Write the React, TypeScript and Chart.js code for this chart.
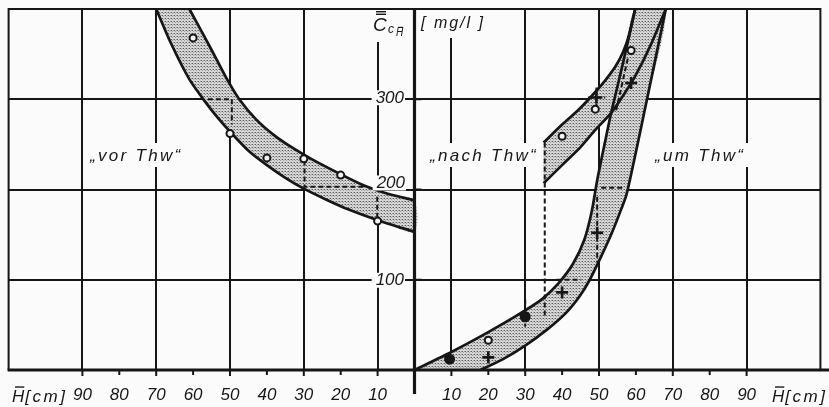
import React, { useEffect, useRef } from 'react';
import { Chart, registerables } from 'chart.js';

Chart.register(...registerables);

// Depth H̄ in cm. The left panel runs leftwards, so its H̄ values are plotted as negative x.
const xTickValues = [10, 20, 30, 40, 50, 60, 70, 80, 90];
const yTickValues = [100, 200, 300];

// Band "vor Thw" (left panel): outer and inner boundary
const vorOuterH = [61, 57, 53.5, 50.5, 47.5, 43, 38, 33, 28, 21, 14, 7, 0];
const vorOuterC = [400, 370, 343, 320, 300, 278, 260, 246, 234, 219, 205, 195, 188];
const vorInnerH = [70, 66, 61, 56.5, 53, 49.5, 45, 40, 35, 30, 24, 18, 10, 0];
const vorInnerC = [400, 362, 322, 296, 278, 262, 243, 227, 213, 201, 189, 178, 166, 153];

// Band "um Thw" (right panel): upper-left and lower-right boundary
const umLeftH = [0, 10, 20, 28, 34.4, 39, 43, 46, 48, 49.5, 51.5, 53.3, 56.5, 59.8];
const umLeftC = [0, 20, 42, 61, 78, 96, 118, 144, 175, 210, 250, 285, 340, 400];
const umRightH = [17.9, 24, 30, 36, 41, 44.8, 47.5, 50.5, 53.5, 56, 57.5, 62.5, 68.1];
const umRightC = [0, 12, 27, 45, 63, 82, 100, 125, 152, 178, 195, 290, 400];

// Band "nach Thw" (right panel): upper and lower boundary
const nachUpperH = [35, 40, 44.4, 49, 51.7, 54.4, 56.5, 58.2, 59.8];
const nachUpperC = [252, 272, 288, 308, 321, 336, 352, 372, 400];
const nachLowerH = [35, 40, 45, 49, 53.3, 57, 60, 64, 68.1];
const nachLowerC = [207, 227, 247, 266, 285, 307, 327, 360, 400];

// Measured values
const vorCircleH = [60, 50, 40, 30, 20, 10];
const vorCircleC = [368, 262, 235, 234, 216, 165];
const rightCircleH = [20, 40, 49, 58.7];
const rightCircleC = [33, 259, 289, 354];
const rightPlusH = [20, 40, 49.5, 49.3, 58.7];
const rightPlusC = [14, 86, 152, 302, 318];
const rightFilledH = [9.5, 30];
const rightFilledC = [12, 59];

// Construction lines (left panel uses negative H)
const guideLines: [number[], number[]][] = [
  [[-56, -49.5, -49.5], [300, 300, 272]],
  [[-29.8, -29.8, -13.6], [232, 203, 203]],
  [[-10.1, -10.1], [192, 169]],
  [[35.3, 35.3], [252, 57]],
  [[38.5, 45.2], [100, 100]],
  [[49.5, 49.5], [192, 119]],
  [[50.6, 57.1], [202, 202]],
  [[47, 51.7], [302, 302]],
  [[49.3, 49.3], [313, 291]],
  [[30, 30], [78, 48]],
  [[57.8, 54.5], [345, 285]],
];

const INK = '#161616';
const PAPER = '#fbfbfb';
const FONT = "'Liberation Sans', 'DejaVu Sans', sans-serif";

const pts = (xs: number[], ys: number[], sign = 1) => xs.map((x, i) => ({ x: sign * x, y: ys[i] }));

// fine halftone stipple used for the bands
function makeDotPattern(): CanvasPattern | string {
  const c = document.createElement('canvas');
  c.width = 3;
  c.height = 3;
  const g = c.getContext('2d');
  if (!g) return '#c0c0c0';
  g.fillStyle = '#d6d6d6';
  g.fillRect(0, 0, 3, 3);
  g.fillStyle = '#5c5c5c';
  g.fillRect(0, 0, 1, 1);
  g.fillStyle = '#a0a0a0';
  g.fillRect(1, 1, 1, 1);
  g.fillRect(2, 0, 1, 1);
  return g.createPattern(c, 'repeat') || '#c0c0c0';
}

function drawOverlined(ctx: CanvasRenderingContext2D, ch: string, x: number, y: number, size: number) {
  ctx.font = `italic ${size}px ${FONT}`;
  ctx.fillText(ch, x, y);
  const w = ctx.measureText(ch).width;
  ctx.fillRect(x + w * 0.25, y - size * 0.92, w * 0.75, Math.max(1.2, size * 0.08));
  return w;
}

const decor = {
  id: 'decor',
  beforeDraw(chart: any) {
    const { ctx, width, height } = chart;
    ctx.save();
    ctx.fillStyle = PAPER;
    ctx.fillRect(0, 0, width, height);
    ctx.restore();
  },
  afterDatasetsDraw(chart: any) {
    const { ctx, chartArea: a, scales } = chart;
    const xs = scales.x;
    const ys = scales.y;
    const x0 = xs.getPixelForValue(0);
    ctx.save();
    ctx.strokeStyle = INK;
    ctx.fillStyle = INK;
    ctx.lineCap = 'butt';

    // frame
    ctx.lineWidth = 2;
    ctx.beginPath();
    ctx.moveTo(a.left, a.bottom);
    ctx.lineTo(a.left, a.top);
    ctx.lineTo(a.right, a.top);
    ctx.lineTo(a.right, a.bottom);
    ctx.stroke();

    // H̄ axis along the bottom
    ctx.lineWidth = 3;
    ctx.beginPath();
    ctx.moveTo(a.left - 1, a.bottom);
    ctx.lineTo(chart.width, a.bottom);
    ctx.stroke();

    // concentration axis in the centre
    ctx.lineWidth = 3.2;
    ctx.beginPath();
    ctx.moveTo(x0, a.top);
    ctx.lineTo(x0, a.bottom + 24);
    ctx.stroke();

    // tick marks below the H̄ axis
    ctx.lineWidth = 2;
    for (const v of xTickValues) {
      for (const s of [-1, 1]) {
        const px = xs.getPixelForValue(s * v);
        ctx.beginPath();
        ctx.moveTo(px, a.bottom);
        ctx.lineTo(px, a.bottom + (v % 20 === 10 ? 6 : 5));
        ctx.stroke();
      }
    }
    // small ticks on the concentration axis
    for (const v of yTickValues) {
      const py = ys.getPixelForValue(v);
      ctx.beginPath();
      ctx.moveTo(x0, py);
      ctx.lineTo(x0 + 7, py);
      ctx.stroke();
    }

    // H̄ tick labels
    ctx.font = `italic 17px ${FONT}`;
    ctx.textAlign = 'center';
    ctx.textBaseline = 'middle';
    for (const v of xTickValues) {
      ctx.fillText(String(v), xs.getPixelForValue(-v), 395);
      ctx.fillText(String(v), xs.getPixelForValue(v), 395);
    }

    // axis titles H̄ [cm]
    ctx.textAlign = 'left';
    ctx.textBaseline = 'alphabetic';
    const unit = (x: number) => {
      const w = drawOverlined(ctx, 'H', x, 402, 17);
      ctx.font = `italic 17px ${FONT}`;
      (ctx as any).letterSpacing = '2.5px';
      ctx.fillText('[cm]', x + w + 1, 402);
      (ctx as any).letterSpacing = '0px';
    };
    unit(12);
    unit(772);

    // concentration tick labels with a clear background
    const yLab: [string, number, number][] = [
      ['300', 404, ys.getPixelForValue(300) - 1],
      ['200', 405, ys.getPixelForValue(200) - 6],
      ['100', 404, ys.getPixelForValue(100) + 1],
    ];
    ctx.font = `italic 17px ${FONT}`;
    ctx.textAlign = 'right';
    ctx.textBaseline = 'middle';
    for (const [t, x, y] of yLab) {
      const w = ctx.measureText(t).width;
      ctx.fillStyle = PAPER;
      ctx.fillRect(x - w - 4, y - 8, w + 5, 15);
      ctx.fillStyle = INK;
      ctx.fillText(t, x, y);
    }

    // concentration axis title: C̿ with subscript C_H̄ and unit
    ctx.fillStyle = PAPER;
    ctx.fillRect(x0 - 45, a.top + 1, 40, 32);
    ctx.fillRect(x0 + 4, a.top + 1, 70, 28);
    ctx.fillStyle = INK;
    ctx.textAlign = 'left';
    ctx.textBaseline = 'alphabetic';
    ctx.font = `italic 19px ${FONT}`;
    ctx.fillText('C', 373, 31);
    ctx.fillRect(376, 11, 10, 1.4);
    ctx.fillRect(376, 13.6, 10, 1.4);
    ctx.font = `italic 12px ${FONT}`;
    ctx.fillText('c', 388, 33);
    drawOverlined(ctx, 'H', 396, 36, 10);
    ctx.font = `italic 16px ${FONT}`;
    (ctx as any).letterSpacing = '2px';
    ctx.fillText('[ mg/l ]', 421, 28);

    // band names
    ctx.font = `italic 17px ${FONT}`;
    (ctx as any).letterSpacing = '2.3px';
    const names: [string, number][] = [
      ['\u201Evor Thw\u201C', 90],
      ['\u201Enach Thw\u201C', 430],
      ['\u201Eum Thw\u201C', 655],
    ];
    for (const [t, x] of names) {
      const w = ctx.measureText(t).width;
      ctx.fillStyle = PAPER;
      ctx.fillRect(x - 3, 143, w + 6, 24);
      ctx.fillStyle = INK;
      ctx.fillText(t, x, 161);
    }
    (ctx as any).letterSpacing = '0px';
    ctx.restore();
  },
};

export default function App() {
  const ref = useRef<HTMLCanvasElement>(null);

  useEffect(() => {
    const canvas = ref.current;
    if (!canvas) return;
    const dots = makeDotPattern();

    const band = (outline: { x: number; y: number }[]) => ({
      data: outline,
      showLine: true,
      fill: 'shape',
      backgroundColor: dots,
      borderWidth: 0,
      borderColor: 'rgba(0,0,0,0)',
      pointRadius: 0,
      tension: 0.25,
      order: 5,
    });
    const edge = (p: { x: number; y: number }[]) => ({
      data: p,
      showLine: true,
      fill: false,
      borderColor: INK,
      borderWidth: 2.7,
      pointRadius: 0,
      tension: 0.25,
      order: 3,
    });
    const marks = (p: { x: number; y: number }[], style: string, r: number, bg: string, bw = 2) => ({
      data: p,
      showLine: false,
      pointStyle: style,
      pointRadius: r,
      pointBorderWidth: bw,
      pointBorderColor: INK,
      pointBackgroundColor: bg,
      order: 1,
    });

    const vorOuter = pts(vorOuterH, vorOuterC, -1);
    const vorInner = pts(vorInnerH, vorInnerC, -1);
    const umLeft = pts(umLeftH, umLeftC);
    const umRight = pts(umRightH, umRightC);
    const nachUpper = pts(nachUpperH, nachUpperC);
    const nachLower = pts(nachLowerH, nachLowerC);

    const datasets: any[] = [
      band([...vorOuter, ...vorInner.slice().reverse()]),
      band([...umLeft, ...umRight.slice().reverse()]),
      band([...nachUpper, ...nachLower.slice().reverse()]),
      edge(vorOuter),
      edge(vorInner),
      edge(umLeft),
      edge(umRight),
      edge(nachUpper),
      edge(nachLower),
      ...guideLines.map(([hx, cy]) => ({
        data: pts(hx, cy),
        showLine: true,
        fill: false,
        borderColor: INK,
        borderWidth: 2,
        borderDash: [5, 3],
        pointRadius: 0,
        tension: 0,
        order: 2,
      })),
      marks(pts(vorCircleH, vorCircleC, -1), 'circle', 3.5, '#f4f4f4'),
      marks(pts(rightCircleH, rightCircleC), 'circle', 3.5, '#f4f4f4'),
      marks(pts(rightPlusH, rightPlusC), 'cross', 6, INK, 2.6),
      marks(pts(rightFilledH, rightFilledC), 'circle', 4.5, INK),
    ];

    const chart = new Chart(canvas, {
      type: 'scatter',
      data: { datasets },
      plugins: [decor],
      options: {
        animation: false,
        responsive: false,
        devicePixelRatio: 1,
        layout: { padding: { left: 8, right: 6, top: 9, bottom: 37 } },
        plugins: { legend: { display: false }, tooltip: { enabled: false } },
        scales: {
          x: {
            type: 'linear',
            min: -110,
            max: 110,
            ticks: { display: false, stepSize: 10 },
            border: { display: false },
            grid: {
              drawTicks: false,
              lineWidth: 2,
              color: (c: any) => {
                const v = Math.round(c.tick?.value ?? 0);
                return Math.abs(v) % 20 === 10 && Math.abs(v) < 100 ? INK : 'rgba(0,0,0,0)';
              },
            },
          },
          y: {
            type: 'linear',
            min: 0,
            max: 400,
            ticks: { display: false, stepSize: 100 },
            border: { display: false },
            grid: {
              drawTicks: false,
              lineWidth: 2,
              color: (c: any) => {
                const v = c.tick?.value ?? 0;
                return v > 0 && v < 400 ? INK : 'rgba(0,0,0,0)';
              },
            },
          },
        },
      } as any,
    });
    return () => chart.destroy();
  }, []);

  return (
    <div style={{ position: 'fixed', left: 0, top: 0, width: 829, height: 407, background: PAPER }}>
      <canvas ref={ref} width={829} height={407} style={{ display: 'block', width: 829, height: 407 }} />
    </div>
  );
}
